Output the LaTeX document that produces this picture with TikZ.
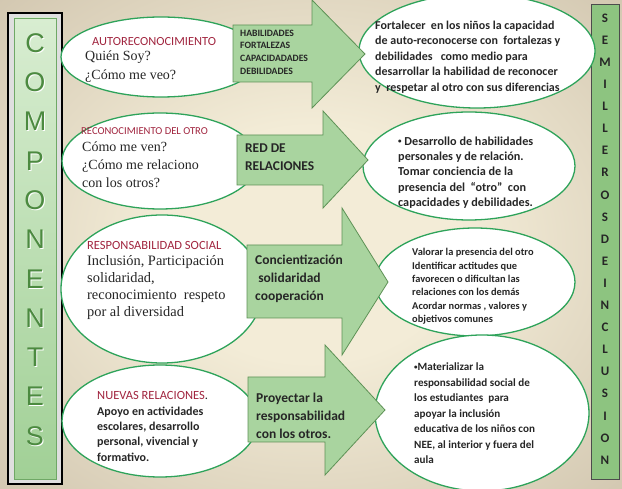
\documentclass[tikz,border=0pt]{standalone}
\usepackage{fontspec}
\setmainfont{Liberation Serif}
\newfontfamily\calibri{Carlito}
\newfontfamily\arialfont{Liberation Sans}
\usepackage{xcolor}
\usetikzlibrary{shapes.geometric}
\definecolor{bgin}{HTML}{F3ECD7}
\definecolor{bgmid}{HTML}{CDC1AA}
\definecolor{bgout}{HTML}{857E72}
\definecolor{ringgreen}{HTML}{2EA35A}
\definecolor{arrowfill}{HTML}{A9D49F}
\definecolor{arrowline}{HTML}{5E9256}
\definecolor{headred}{HTML}{A1253F}
\definecolor{bartop}{HTML}{D8EDD1}
\definecolor{barbot}{HTML}{A1D096}
\definecolor{barline}{HTML}{6FA866}
\definecolor{lettergreen}{HTML}{4C8A40}
\definecolor{sidebar}{HTML}{8DC480}
\definecolor{inktext}{HTML}{262626}
\pgfdeclareradialshading{paper}{\pgfpoint{0bp}{0bp}}{color(0bp)=(bgin); color(12bp)=(bgin); color(40bp)=(bgmid); color(72bp)=(bgout)}
\newcommand{\fsz}[2]{\fontsize{#1}{#2}\selectfont}
\newcommand{\dotb}{\raisebox{1.8pt}{\fsz{7}{7}•}}

\begin{document}
\begin{tikzpicture}[x=1pt,y=-1pt,
    bubble/.style={ellipse,draw=ringgreen,line width=1.3pt,fill=white,inner sep=0pt},
    blockarrow/.style={draw=arrowline,fill=arrowfill,line width=0.8pt,line join=miter},
    txt/.style={anchor=west,inner sep=0pt,align=left,text=inktext},
    headline/.style={anchor=west,inner sep=0pt,text=headred},
    bigletter/.style={inner sep=0pt,font=\arialfont\fsz{27}{27}},
    sideletter/.style={inner sep=0pt,text=inktext,font=\calibri\bfseries\fsz{13}{13}}]
  \useasboundingbox (0,0) rectangle (622,489);
  \clip (0,0) rectangle (622,489);
  % background
  \shade[shading=paper] (0,0) rectangle (622,489);

  % left bar
  \draw[black,line width=1.6pt,fill=gray!25] (8,13) rectangle (62,484);
  \shade[top color=bartop,bottom color=barbot,draw=barline,line width=0.6pt] (14,18) rectangle (56,479);
  \foreach \ch [count=\i from 0] in {C,O,M,P,O,N,E,N,T,E,S} {
    \node[bigletter,text=white] (cs\i) at (36,{44+39.3*\i}) {\ch};
    \node[bigletter,text=lettergreen] (c\i) at (35,{43+39.3*\i}) {\ch};
  }

  % right bar
  \draw[sidebar,fill=sidebar] (591,4) rectangle (619,479);
  \draw[black!70,line width=0.6pt] (591,4) rectangle (619,479);
  \foreach \ch [count=\i from 0] in {S,E,M,I,L,L,E,R,O,S,D,E,I,N,C,L,U,S,I,O,N}
    \node[sideletter] (s\i) at (605,{18+22.1*\i}) {\ch};

  % left bubbles
  \node[bubble,minimum width=200pt,minimum height=80pt] (auto) at (161,57) {};
  \node[bubble,minimum width=196pt,minimum height=96pt] (reco) at (160,161) {};
  \node[bubble,minimum width=202pt,minimum height=148pt] (resp) at (162,289) {};
  \node[bubble,minimum width=196pt,minimum height=112pt] (nuev) at (160,421) {};

  % right bubbles
  \node[bubble,minimum width=236pt,minimum height=114pt] (fort) at (477,51) {};
  \node[bubble,minimum width=212pt,minimum height=108pt] (desa) at (469,166) {};
  \node[bubble,minimum width=200pt,minimum height=108pt] (valo) at (475,282) {};
  \node[bubble,minimum width=214pt,minimum height=156pt] (mate) at (482,413) {};

  % block arrows
  \draw[blockarrow] (233,25) -- (312,25) -- (312,0) -- (365,54) -- (312,108) -- (312,82) -- (233,82) -- cycle;
  \draw[blockarrow] (237,135) -- (323,135) -- (323,111) -- (368,160) -- (323,208) -- (323,185) -- (237,185) -- cycle;
  \draw[blockarrow] (247,245) -- (342,245) -- (342,208) -- (388,282) -- (342,355) -- (342,318) -- (247,318) -- cycle;
  \draw[blockarrow] (248,377) -- (325,377) -- (325,345) -- (385,410) -- (325,475) -- (325,442) -- (248,442) -- cycle;

  % left texts
  \node[headline,font=\calibri\fsz{12.4}{13}] (autohead) at (92,42) {AUTORECONOCIMIENTO};
  \node[txt,font=\fsz{14}{19}] (autotext) at (85,67) {Quién Soy?\\¿Cómo me veo?};
  \node[headline,font=\calibri\fsz{10.6}{11}] (recohead) at (81,131) {RECONOCIMIENTO DEL OTRO};
  \node[txt,font=\fsz{14}{18}] (recotext) at (82,165) {Cómo me ven?\\¿Cómo me relaciono\\con los otros?};
  \node[headline,font=\calibri\fsz{12.5}{13}] (resphead) at (87,245) {RESPONSABILIDAD SOCIAL};
  \node[txt,font=\fsz{14.4}{17}] (resptext) at (87,287.5) {Inclusión, Participación\\solidaridad,\\reconocimiento\ \ respeto\\por al diversidad};
  \node[headline,font=\calibri\fsz{12.5}{13}] (nuevhead) at (97,395) {NUEVAS RELACIONES{\color{inktext}.}};
  \node[txt,font=\calibri\bfseries\fsz{12}{15.4}] (nuevtext) at (97,434) {Apoyo en actividades\\escolares, desarrollo\\personal, vivencial y\\formativo.};

  % arrow texts
  \node[txt,font=\calibri\bfseries\fsz{9.7}{12.7}] (habi) at (240,52) {HABILIDADES\\FORTALEZAS\\CAPACIDADADES\\DEBILIDADES};
  \node[txt,font=\calibri\bfseries\fsz{13.4}{17.5}] (red) at (245,157) {RED DE\\RELACIONES};
  \node[txt,font=\calibri\bfseries\fsz{13.5}{18}] (conc) at (255,279) {Concientización\\\ solidaridad\\cooperación};
  \node[txt,font=\calibri\bfseries\fsz{13.5}{18}] (proy) at (256,416) {Proyectar la\\responsabilidad\\con los otros.};

  % right texts
  \node[txt,font=\calibri\bfseries\fsz{12}{15.5}] (forttext) at (375,57) {Fortalecer\ \ en los niños la capacidad\\de auto-reconocerse con\ \ fortalezas y\\debilidades\ \ \ como medio para\\desarrollar la habilidad de reconocer\\y\ \ respetar al otro con sus diferencias};
  \node[txt,font=\calibri\bfseries\fsz{12.2}{15.3}] (desatext) at (398,172.5) {\dotb\ Desarrollo de habilidades\\personales y de relación.\\Tomar conciencia de la\\presencia del\ \ “otro”\ \ con\\capacidades y debilidades.};
  \node[txt,font=\calibri\bfseries\fsz{10.4}{13.4}] (valotext) at (412,286.5) {Valorar la presencia del otro\\Identificar actitudes que\\favorecen o dificultan las\\relaciones con los demás\\Acordar normas , valores y\\objetivos comunes};
  \node[txt,font=\calibri\bfseries\fsz{11.1}{15.5}] (matetext) at (414,413.5) {\dotb Materializar la\\responsabilidad social de\\los estudiantes\ \ para\\apoyar la inclusión\\educativa de los niños con\\NEE, al interior y fuera del\\aula};
\end{tikzpicture}
\end{document}
